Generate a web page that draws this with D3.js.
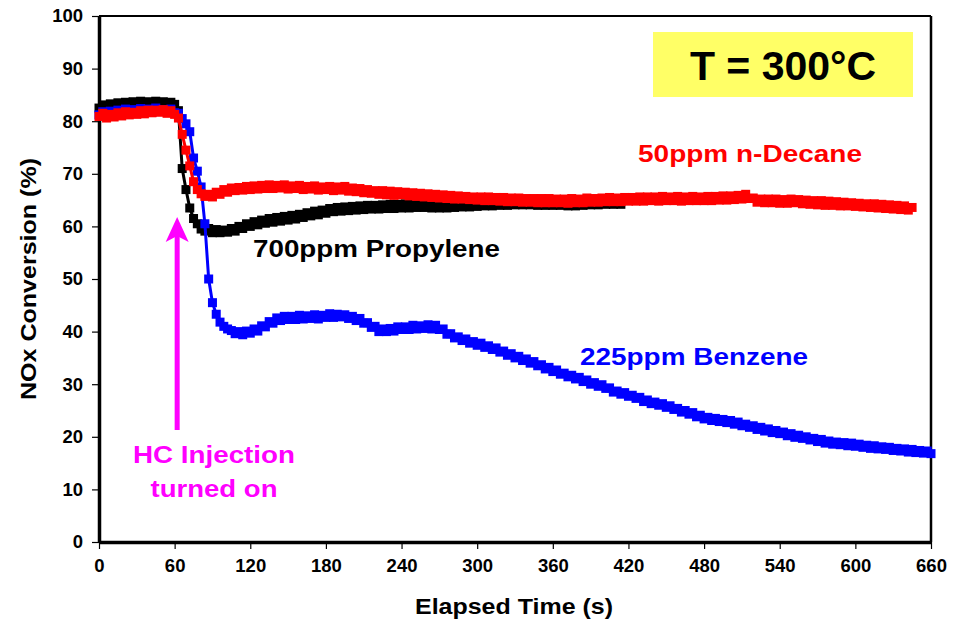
<!DOCTYPE html>
<html>
<head>
<meta charset="utf-8">
<script src="https://cdn.jsdelivr.net/npm/d3@7"></script>
<style>
  html, body { margin: 0; padding: 0; background: #fff; }
  svg { display: block; }
  text { font-family: "Liberation Sans", Arial, Helvetica, sans-serif; font-weight: bold; }
</style>
</head>
<body>
<svg id="chart" width="963" height="623"></svg>
<script>
// Sampling of the analyser (seconds between readings)
const sampleStep = 3;

// NOx conversion (%) readings, first reading at t = 0 s
const benzeneValues = [
  81.2, 81.8, 81.0, 81.9, 81.4, 82.1, 81.5, 82.3, 81.7, 82.2, 81.6, 82.4, 81.8, 82.3, 81.7, 82.5, 81.9, 82.2, 81.8, 82.3, 81.6,
  81.5, 80.5, 79.5, 78.0, 73.0, 70.5, 67.5, 60.5, 50.0, 45.5, 43.3, 41.8, 41.0, 40.5, 40.2, 39.6, 40.0, 39.4, 40.1, 39.7,
  40.5, 40.1, 41.1, 40.9, 41.9, 41.6, 42.6, 42.1, 42.9, 42.3, 42.9, 42.3, 43.1, 42.4, 43.0, 42.5, 43.2, 42.4, 43.1, 42.7,
  43.4, 42.7, 43.3, 42.8, 43.2, 42.5, 42.9, 42.1, 42.5, 41.6, 41.7, 40.8, 41.0, 40.0, 40.5, 40.0, 40.6, 40.1, 40.9, 40.4,
  40.9, 40.4, 41.2, 40.5, 41.1, 40.6, 41.3, 40.5, 41.2, 40.4, 40.5, 39.5, 39.6, 38.8, 39.0, 38.3, 38.6, 37.8, 38.1, 37.4,
  37.8, 37.0, 37.3, 36.6, 36.9, 36.1, 36.3, 35.5, 35.8, 35.0, 35.3, 34.5, 34.8, 34.0, 34.3, 33.5, 33.7, 32.9, 33.2, 32.4,
  32.7, 31.9, 32.1, 31.4, 31.7, 31.0, 31.3, 30.5, 30.8, 30.0, 30.3, 29.6, 29.9, 29.2, 29.3, 28.5, 28.7, 28.1, 28.4, 27.7,
  27.9, 27.3, 27.5, 26.7, 27.0, 26.3, 26.6, 26.0, 26.3, 25.6, 25.9, 25.2, 25.4, 24.7, 25.0, 24.3, 24.6, 23.8, 24.1, 23.4,
  23.7, 23.1, 23.5, 22.9, 23.3, 22.7, 23.1, 22.4, 22.8, 22.1, 22.4, 21.8, 22.1, 21.4, 21.8, 21.1, 21.5, 20.8, 21.2, 20.6,
  20.9, 20.2, 20.6, 19.9, 20.3, 19.7, 20.0, 19.4, 19.7, 19.1, 19.5, 18.8, 19.2, 18.6, 19.0, 18.5, 18.9, 18.3, 18.8, 18.2,
  18.6, 18.0, 18.4, 17.8, 18.3, 17.7, 18.1, 17.6, 18.0, 17.4, 17.8, 17.3, 17.7, 17.1, 17.6, 17.0, 17.4, 16.9, 17.3, 16.8
];

const decaneValues = [
  80.9, 81.5, 80.6, 81.3, 80.8, 81.6, 81.0, 81.8, 81.2, 81.7, 81.3, 82.0, 81.4, 82.1, 81.6, 82.1, 81.7, 82.2, 81.5, 82.0, 81.3,
  80.6, 77.5, 74.5, 71.5, 68.5, 67.0, 66.2, 65.7, 66.1, 65.6, 66.5, 66.1, 67.0, 66.5, 67.3, 66.8, 67.4, 66.9, 67.6, 67.0,
  67.7, 67.1, 67.8, 67.2, 67.9, 67.2, 67.8, 67.3, 67.9, 67.1, 67.7, 67.2, 67.8, 67.0, 67.6, 67.1, 67.7, 66.9, 67.5, 67.0,
  67.6, 66.8, 67.5, 66.9, 67.6, 66.7, 67.3, 66.6, 67.2, 66.4, 67.0, 66.3, 66.8, 66.1, 66.8, 66.0, 66.7, 65.9, 66.6, 66.0,
  66.5, 65.8, 66.4, 65.7, 66.3, 65.6, 66.2, 65.5, 66.1, 65.4, 66.0, 65.3, 65.9, 65.2, 65.8, 65.2, 65.7, 65.1, 65.6, 65.0,
  65.6, 64.9, 65.6, 64.9, 65.5, 64.8, 65.5, 64.7, 65.4, 64.7, 65.4, 64.6, 65.3, 64.6, 65.3, 64.5, 65.3, 64.5, 65.3, 64.5,
  65.2, 64.5, 65.2, 64.4, 65.3, 64.5, 65.2, 64.5, 65.4, 64.6, 65.3, 64.6, 65.4, 64.7, 65.5, 64.7, 65.4, 64.7, 65.5, 64.8,
  65.5, 64.8, 65.6, 64.8, 65.6, 64.9, 65.6, 64.8, 65.7, 64.9, 65.6, 64.9, 65.7, 64.8, 65.6, 64.9, 65.7, 64.9, 65.6, 64.9,
  65.7, 64.9, 65.7, 65.0, 65.8, 65.0, 65.8, 65.1, 65.9, 65.2, 66.1, 65.3, 65.4, 64.6, 65.2, 64.5, 65.2, 64.5, 65.2, 64.4,
  65.1, 64.4, 65.2, 64.5, 65.1, 64.3, 65.0, 64.2, 64.9, 64.1, 64.9, 64.0, 64.8, 64.0, 64.7, 63.9, 64.6, 63.9, 64.5, 63.8,
  64.4, 63.7, 64.3, 63.6, 64.3, 63.5, 64.2, 63.4, 64.1, 63.3, 64.0, 63.2, 63.9, 63.1, 63.6
];

const propyleneValues = [
  82.5, 83.1, 82.7, 83.3, 82.9, 83.5, 83.0, 83.6, 83.1, 83.7, 83.0, 83.8, 83.1, 83.7, 83.2, 83.8, 83.0, 83.7, 83.1, 83.6, 83.2,
  82.0, 71.0, 67.0, 63.5, 61.5, 60.5, 59.5, 59.1, 59.6, 58.8, 59.4, 58.8, 59.3, 58.9, 59.6, 59.1, 60.0, 59.6, 60.5, 60.0,
  60.9, 60.3, 61.2, 60.6, 61.5, 60.8, 61.7, 61.0, 61.9, 61.2, 62.1, 61.4, 62.3, 61.7, 62.6, 62.0, 62.9, 62.2, 63.1, 62.5,
  63.4, 62.8, 63.6, 62.9, 63.7, 63.0, 63.8, 63.1, 63.9, 63.2, 64.0, 63.3, 64.0, 63.3, 64.1, 63.4, 64.2, 63.4, 64.2, 63.5,
  64.3, 63.5, 64.4, 63.6, 64.4, 63.6, 64.3, 63.5, 64.3, 63.5, 64.2, 63.5, 64.3, 63.6, 64.4, 63.7, 64.4, 63.7, 64.5, 63.8,
  64.6, 63.9, 64.6, 63.9, 64.7, 64.0, 64.8, 64.0, 64.8, 64.1, 64.9, 64.1, 64.9, 64.1, 64.8, 64.0, 64.8, 64.0, 64.8, 64.0,
  64.8, 64.0, 64.7, 63.9, 64.7, 63.9, 64.8, 64.0, 64.8, 64.1, 64.9, 64.1, 64.9, 64.2, 65.0, 64.2, 64.9, 64.2
];

const xTicks = [0, 60, 120, 180, 240, 300, 360, 420, 480, 540, 600, 660];
const yTicks = [0, 10, 20, 30, 40, 50, 60, 70, 80, 90, 100];

const seriesNames = ["700ppm Propylene", "225ppm Benzene", "50ppm n-Decane"];
const seriesColors = ["#000000", "#0000ff", "#ff0000"];
const tempLabel = "T = 300°C";
const injectionLabel = ["HC Injection", "turned on"];
const injectionTime = 62;

const svg = d3.select("#chart");
const width = 963, height = 623;
const margin = { top: 16, right: 32, bottom: 81, left: 99 };

const x = d3.scaleLinear().domain([0, 660]).range([margin.left, width - margin.right]);
const y = d3.scaleLinear().domain([0, 100]).range([height - margin.bottom, margin.top]);

// Plot frame: thin top/right, heavy left/bottom
svg.append("line").attr("x1", x(0)).attr("x2", x(660)).attr("y1", y(100)).attr("y2", y(100))
  .attr("stroke", "#000").attr("stroke-width", 2);
svg.append("line").attr("x1", x(660)).attr("x2", x(660)).attr("y1", y(100)).attr("y2", y(0))
  .attr("stroke", "#000").attr("stroke-width", 2.5);

// Axes
const xAxis = d3.axisBottom(x).tickValues(xTicks).tickSizeInner(7).tickSizeOuter(0).tickPadding(10);
const yAxis = d3.axisLeft(y).tickValues(yTicks).tickSizeInner(7).tickSizeOuter(0).tickPadding(9);

const gx = svg.append("g").attr("transform", `translate(0,${y(0)})`).call(xAxis);
const gy = svg.append("g").attr("transform", `translate(${x(0)},0)`).call(yAxis);
[gx, gy].forEach(g => {
  g.select(".domain").attr("stroke", "#000").attr("stroke-width", 3.5);
  g.selectAll(".tick line").attr("stroke", "#000").attr("stroke-width", 1.2);
  g.selectAll(".tick text").attr("fill", "#000").style("font-size", "18.5px").style("font-weight", "bold")
    .style("font-family", '"Liberation Sans", Arial, sans-serif');
});

// Axis titles
svg.append("text").attr("x", 514).attr("y", 614).attr("text-anchor", "middle")
  .style("font-size", "22px").attr("textLength", 198).attr("lengthAdjust", "spacingAndGlyphs")
  .text("Elapsed Time (s)");
svg.append("text").attr("transform", "translate(36,279) rotate(-90)").attr("text-anchor", "middle")
  .style("font-size", "22px").attr("textLength", 242).attr("lengthAdjust", "spacingAndGlyphs")
  .text("NOx Conversion (%)");

// Series
const series = [propyleneValues, benzeneValues, decaneValues].map((vals, i) => ({
  name: seriesNames[i],
  color: seriesColors[i],
  points: vals.map((v, k) => ({ t: k * sampleStep, v }))
}));

const line = d3.line().x(d => x(d.t)).y(d => y(d.v));
const marker = 9;

series.forEach(s => {
  const g = svg.append("g");
  g.append("path").datum(s.points).attr("d", line)
    .attr("fill", "none").attr("stroke", s.color).attr("stroke-width", 3);
  g.selectAll("rect").data(s.points).join("rect")
    .attr("x", d => x(d.t) - marker / 2).attr("y", d => y(d.v) - marker / 2)
    .attr("width", marker).attr("height", marker).attr("fill", s.color);
});

// Series labels
const labelSpecs = [
  { x: 253, y: 257, len: 247 },
  { x: 580, y: 365, len: 228 },
  { x: 638, y: 162, len: 224 }
];
series.forEach((s, i) => {
  svg.append("text").attr("x", labelSpecs[i].x).attr("y", labelSpecs[i].y)
    .attr("fill", s.color).style("font-size", "24px")
    .attr("textLength", labelSpecs[i].len).attr("lengthAdjust", "spacingAndGlyphs")
    .text(s.name);
});

// Temperature box
svg.append("rect").attr("x", 653).attr("y", 32).attr("width", 260).attr("height", 65).attr("fill", "#ffff66");
svg.append("text").attr("x", 783).attr("y", 80).attr("text-anchor", "middle")
  .style("font-size", "41px").text(tempLabel);

// Injection arrow
const ax = x(injectionTime);
svg.append("line").attr("x1", ax).attr("x2", ax).attr("y1", 430).attr("y2", 236)
  .attr("stroke", "#ff00ff").attr("stroke-width", 5);
svg.append("path")
  .attr("d", `M${ax},217 L${ax + 11.5},242 L${ax},236 L${ax - 11.5},242 Z`)
  .attr("fill", "#ff00ff");
svg.append("text").attr("x", 214).attr("y", 463).attr("text-anchor", "middle")
  .attr("fill", "#ff00ff").style("font-size", "24px")
  .attr("textLength", 162).attr("lengthAdjust", "spacingAndGlyphs").text(injectionLabel[0]);
svg.append("text").attr("x", 214).attr("y", 497).attr("text-anchor", "middle")
  .attr("fill", "#ff00ff").style("font-size", "24px")
  .attr("textLength", 127).attr("lengthAdjust", "spacingAndGlyphs").text(injectionLabel[1]);
</script>
</body>
</html>
